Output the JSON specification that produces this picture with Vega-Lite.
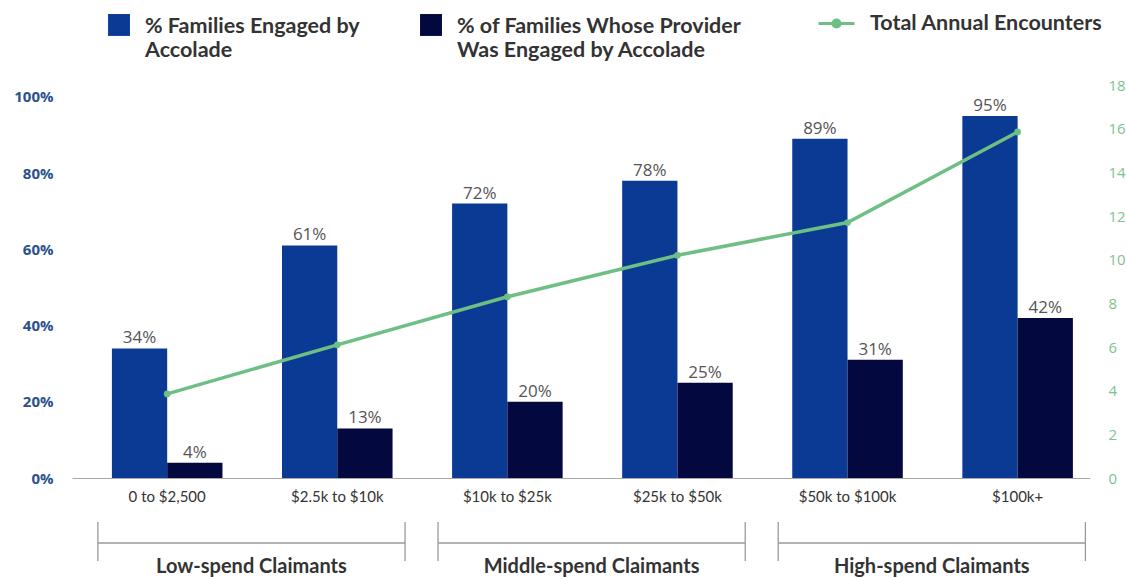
{
  "$schema": "https://vega.github.io/schema/vega-lite/v6.json",
  "autosize": {"type": "none"},
  "width": 1018,
  "height": 393,
  "padding": {"left": 72, "top": 85, "right": 36, "bottom": 99},
  "background": "white",
  "config": {"view": {"stroke": null}, "legend": {"padding": 0}},
  "datasets": {
    "bars": [
      {"category": "0 to $2,500", "series": "% Families Engaged by Accolade", "value": 0.34},
      {"category": "0 to $2,500", "series": "% of Families Whose Provider Was Engaged by Accolade", "value": 0.04},
      {"category": "$2.5k to $10k", "series": "% Families Engaged by Accolade", "value": 0.61},
      {"category": "$2.5k to $10k", "series": "% of Families Whose Provider Was Engaged by Accolade", "value": 0.13},
      {"category": "$10k to $25k", "series": "% Families Engaged by Accolade", "value": 0.72},
      {"category": "$10k to $25k", "series": "% of Families Whose Provider Was Engaged by Accolade", "value": 0.20},
      {"category": "$25k to $50k", "series": "% Families Engaged by Accolade", "value": 0.78},
      {"category": "$25k to $50k", "series": "% of Families Whose Provider Was Engaged by Accolade", "value": 0.25},
      {"category": "$50k to $100k", "series": "% Families Engaged by Accolade", "value": 0.89},
      {"category": "$50k to $100k", "series": "% of Families Whose Provider Was Engaged by Accolade", "value": 0.31},
      {"category": "$100k+", "series": "% Families Engaged by Accolade", "value": 0.95},
      {"category": "$100k+", "series": "% of Families Whose Provider Was Engaged by Accolade", "value": 0.42}
    ],
    "encounters": [
      {"category": "0 to $2,500", "encounters": 3.85},
      {"category": "$2.5k to $10k", "encounters": 6.1},
      {"category": "$10k to $25k", "encounters": 8.3},
      {"category": "$25k to $50k", "encounters": 10.2},
      {"category": "$50k to $100k", "encounters": 11.7},
      {"category": "$100k+", "encounters": 15.85}
    ],
    "groups": [
      {"group": "Low-spend Claimants", "first": "0 to $2,500", "last": "$2.5k to $10k"},
      {"group": "Middle-spend Claimants", "first": "$10k to $25k", "last": "$25k to $50k"},
      {"group": "High-spend Claimants", "first": "$50k to $100k", "last": "$100k+"}
    ]
  },
  "layer": [
    {
      "data": {"name": "bars"},
      "encoding": {
        "x": {
          "field": "category", "type": "nominal",
          "sort": ["0 to $2,500", "$2.5k to $10k", "$10k to $25k", "$25k to $50k", "$50k to $100k", "$100k+"],
          "scale": {
            "domain": ["0 to $2,500", "$2.5k to $10k", "$10k to $25k", "$25k to $50k", "$50k to $100k", "$100k+"],
            "paddingInner": 0.35, "paddingOuter": 0.1676, "align": 0.7
          },
          "axis": {
            "title": null, "ticks": false, "labelAngle": 0, "labelPadding": 11,
            "labelFont": "Lato", "labelFontSize": 15, "labelColor": "#333333",
            "domainColor": "#a8a8a8", "domainWidth": 1.2
          }
        },
        "xOffset": {"field": "series", "type": "nominal", "sort": ["% Families Engaged by Accolade", "% of Families Whose Provider Was Engaged by Accolade"]},
        "y": {
          "field": "value", "type": "quantitative",
          "scale": {"domain": [0, 1.031], "nice": false},
          "axis": {
            "title": null, "values": [0, 0.2, 0.4, 0.6, 0.8, 1.0], "format": ".0%",
            "grid": false, "domain": false, "ticks": false, "labelPadding": 19,
            "labelFont": "Open Sans", "labelFontWeight": "bold", "labelFontSize": 15, "labelColor": "#2c4f8f"
          }
        }
      },
      "layer": [
        {
          "mark": {"type": "bar"},
          "encoding": {
            "color": {
              "field": "series", "type": "nominal",
              "scale": {"domain": ["% Families Engaged by Accolade", "% of Families Whose Provider Was Engaged by Accolade"], "range": ["#0b3a95", "#03083e"]},
              "legend": {
                "title": null, "orient": "none", "legendX": 36, "legendY": -80, "direction": "horizontal",
                "symbolType": "M-1,-0.18H1V1.82H-1Z", "symbolSize": 480, "symbolStrokeWidth": 0, "labelOffset": 15, "columnPadding": 60,
                "labelFont": "Lato", "labelFontWeight": "bold", "labelFontSize": 21.5, "labelColor": "#333333", "labelLimit": 400,
                "labelBaseline": "top",
                "labelExpr": "datum.label == '% Families Engaged by Accolade' ? ['% Families Engaged by', 'Accolade'] : ['% of Families Whose Provider', 'Was Engaged by Accolade']"
              }
            }
          }
        },
        {
          "mark": {"type": "text", "baseline": "alphabetic", "dy": -5, "font": "Open Sans", "fontSize": 17, "color": "#555555"},
          "encoding": {"text": {"field": "value", "format": ".0%"}}
        }
      ]
    },
    {
      "data": {"name": "encounters"},
      "encoding": {
        "x": {
          "field": "category", "type": "nominal",
          "sort": ["0 to $2,500", "$2.5k to $10k", "$10k to $25k", "$25k to $50k", "$50k to $100k", "$100k+"]
        },
        "y": {
          "field": "encounters", "type": "quantitative",
          "scale": {"domain": [0, 18], "nice": false},
          "axis": {
            "title": null, "orient": "right", "values": [0, 2, 4, 6, 8, 10, 12, 14, 16, 18],
            "grid": false, "domain": false, "ticks": false, "labelPadding": 18,
            "labelFont": "Open Sans", "labelFontSize": 15, "labelColor": "#7dc391"
          }
        }
      },
      "layer": [
        {
          "mark": {"type": "line", "strokeWidth": 3.5, "color": "#6dbf84"},
          "encoding": {
            "stroke": {
              "datum": "Total Annual Encounters",
              "scale": {"domain": ["Total Annual Encounters"], "range": ["#6dbf84"]},
              "legend": {
                "title": null, "orient": "none", "legendX": 745, "legendY": -81,
                "symbolType": "M-1,0H1M0.2,0A0.2,0.2 0 1,1 -0.2,0A0.2,0.2 0 1,1 0.2,0Z",
                "symbolSize": 1296, "symbolStrokeWidth": 3, "symbolFillColor": "#6dbf84",
                "labelOffset": 14, "labelFont": "Lato", "labelFontWeight": "bold", "labelFontSize": 21.5, "labelColor": "#333333", "labelLimit": 400
              }
            }
          }
        },
        {
          "mark": {"type": "point", "filled": true, "size": 45, "color": "#6dbf84", "opacity": 1}
        }
      ]
    },
    {
      "data": {"name": "groups"},
      "layer": [
        {
          "mark": {"type": "rule", "color": "#9a9a9a", "strokeWidth": 1.3},
          "encoding": {
            "x": {"field": "first", "type": "nominal", "bandPosition": -0.127, "sort": ["0 to $2,500", "$2.5k to $10k", "$10k to $25k", "$25k to $50k", "$50k to $100k", "$100k+"]},
            "x2": {"field": "last", "bandPosition": 1.113},
            "y": {"value": 458}
          }
        },
        {
          "mark": {"type": "rule", "color": "#9a9a9a", "strokeWidth": 1.3},
          "encoding": {
            "x": {"field": "first", "type": "nominal", "bandPosition": -0.127, "sort": ["0 to $2,500", "$2.5k to $10k", "$10k to $25k", "$25k to $50k", "$50k to $100k", "$100k+"]},
            "y": {"value": 437},
            "y2": {"value": 476}
          }
        },
        {
          "mark": {"type": "rule", "color": "#9a9a9a", "strokeWidth": 1.3},
          "encoding": {
            "x": {"field": "last", "type": "nominal", "bandPosition": 1.113, "sort": ["0 to $2,500", "$2.5k to $10k", "$10k to $25k", "$25k to $50k", "$50k to $100k", "$100k+"]},
            "y": {"value": 437},
            "y2": {"value": 476}
          }
        },
        {
          "mark": {"type": "text", "font": "Lato", "fontWeight": "bold", "fontSize": 20, "color": "#333333", "baseline": "alphabetic"},
          "encoding": {
            "x": {"field": "first", "type": "nominal", "bandPosition": 1.262, "sort": ["0 to $2,500", "$2.5k to $10k", "$10k to $25k", "$25k to $50k", "$50k to $100k", "$100k+"]},
            "y": {"value": 488},
            "text": {"field": "group"}
          }
        }
      ]
    }
  ],
  "resolve": {"scale": {"y": "independent"}}
}
